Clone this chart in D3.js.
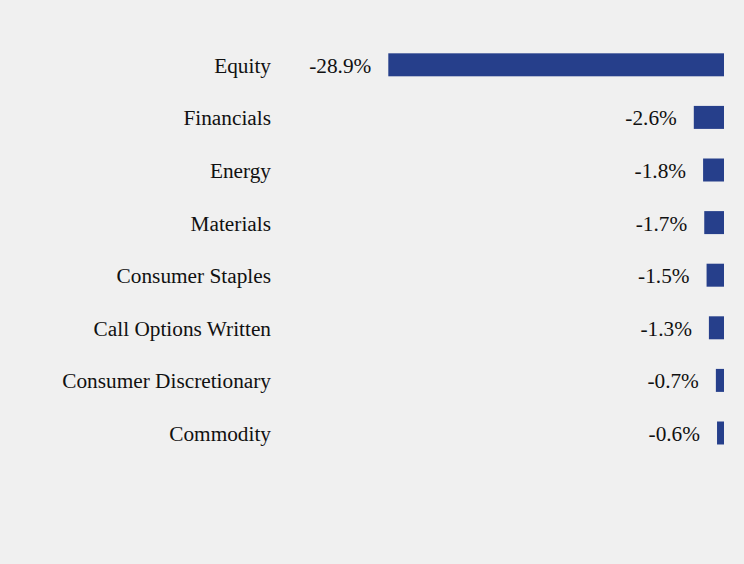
<!DOCTYPE html>
<html><head><meta charset="utf-8">
<script src="https://cdn.jsdelivr.net/npm/d3@7"></script>
<style>html,body{margin:0;padding:0;background:#f0f0f0;}svg{display:block;}</style>
</head><body>
<svg id="c" width="744" height="564"></svg>
<script>
const categories = ["Equity","Financials","Energy","Materials","Consumer Staples","Call Options Written","Consumer Discretionary","Commodity"];
const values = [-28.9,-2.6,-1.8,-1.7,-1.5,-1.3,-0.7,-0.6];
const valueLabels = ["-28.9%","-2.6%","-1.8%","-1.7%","-1.5%","-1.3%","-0.7%","-0.6%"];

const svg = d3.select("#c");
svg.append("rect").attr("width",744).attr("height",564).attr("fill","#f0f0f0");

const y = d3.scaleBand().domain(categories).range([23.7, 474.1]).padding(0.563);
const x = d3.scaleLinear().domain([-28.9, 0]).range([388.3, 724]);
const font = "'Liberation Serif','Times New Roman',serif";

const g = svg.append("g");
categories.forEach((c,i)=>{
  const v = values[i];
  const yc = y(c) + y.bandwidth()/2;
  g.append("rect").attr("x", x(v)).attr("y", y(c)).attr("width", x(0)-x(v)).attr("height", y.bandwidth()).attr("fill","#263f8b");
  g.append("text").attr("x", 271).attr("y", yc).attr("dy","0.38em").attr("text-anchor","end")
    .attr("font-family",font).attr("font-size",21.3).attr("fill","#111").text(c);
  g.append("text").attr("x", x(v)-17).attr("y", yc).attr("dy","0.38em").attr("text-anchor","end")
    .attr("font-family",font).attr("font-size",21.3).attr("fill","#111").text(valueLabels[i]);
});
</script>
</body></html>
